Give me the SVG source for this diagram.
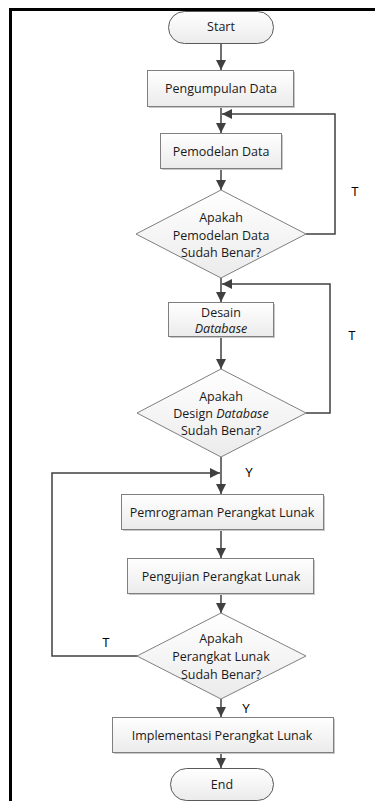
<svg xmlns="http://www.w3.org/2000/svg" width="375" height="801" viewBox="0 0 375 801">
<defs>
<linearGradient id="g" x1="0" y1="0" x2="0" y2="1"><stop offset="0" stop-color="#ffffff"/><stop offset="1" stop-color="#ebebeb"/></linearGradient>
<marker id="ah" markerUnits="userSpaceOnUse" markerWidth="10" markerHeight="10" viewBox="0 0 10 10" refX="10" refY="5" orient="auto"><path d="M0,0 L10,5 L0,10 z" fill="#404040"/></marker>
</defs>
<style>
.box{fill:url(#g);stroke:#7f7f7f;stroke-width:1}
.sh{fill:#c8c8c8}
.term{fill:url(#g);stroke:#595959;stroke-width:1}
.t{font-family:"Open Sans","Noto Sans",sans-serif;font-size:12.5px;fill:#1a1a1a;text-anchor:middle}
.lbl{font-family:"Liberation Sans",Arial,sans-serif;font-size:12px;fill:#000;text-anchor:middle}
.c{fill:none;stroke:#404040;stroke-width:1.5;marker-end:url(#ah)}
</style>
<rect width="375" height="801" fill="#fff"/>
<path d="M10.5,801 V9.5 H375" fill="none" stroke="#000" stroke-width="3"/>
<g id="connectors">
<path class="c" d="M221,43 V70"/>
<path class="c" d="M221,106 V133"/>
<path class="c" d="M221,168 V190"/>
<path class="c" d="M306,234 H335 V114 H222"/>
<path class="c" d="M221,278 V302"/>
<path class="c" d="M221,336 V369"/>
<path class="c" d="M306,413 H330 V284 H222"/>
<path class="c" d="M221,457 V494"/>
<path class="c" d="M137,656 H52 V473 H220"/>
<path class="c" d="M221,529 V558"/>
<path class="c" d="M221,593 V613"/>
<path class="c" d="M221,699 V717"/>
<path class="c" d="M221,752 V768"/>
</g>
<g id="start"><rect class="term" x="168.5" y="11.5" width="105" height="32" rx="16"/><text class="t" x="221" y="31">Start</text></g>
<g id="pengumpulan"><rect class="sh" x="149" y="72" width="146" height="36"/><rect class="box" x="147.5" y="70.5" width="146" height="36"/><text class="t" x="221" y="93">Pengumpulan Data</text></g>
<g id="pemodelan"><rect class="sh" x="162" y="135" width="121" height="35"/><rect class="box" x="160.5" y="133.5" width="121" height="35"/><text class="t" x="221" y="155.5">Pemodelan Data</text></g>
<g id="cek1"><polygon class="box" points="221,190 306,234 221,278 136,234"/><text class="t" x="221" y="221.5">Apakah</text><text class="t" x="221" y="239.5">Pemodelan Data</text><text class="t" x="221" y="256.5">Sudah Benar?</text></g>
<g id="desain"><rect class="sh" x="170" y="304" width="105" height="34"/><rect class="box" x="168.5" y="302.5" width="105" height="34"/><text class="t" x="221" y="316.5">Desain</text><text class="t" x="221" y="332.5" font-style="italic">Database</text></g>
<g id="cek2"><polygon class="box" points="221,369 306,413 221,457 137,413"/><text class="t" x="221" y="400.5">Apakah</text><text class="t" x="221" y="417.5">Design <tspan font-style="italic">Database</tspan></text><text class="t" x="221" y="434.5">Sudah Benar?</text></g>
<g id="pemrograman"><rect class="sh" x="123" y="496" width="202" height="35"/><rect class="box" x="121.5" y="494.5" width="202" height="35"/><text class="t" x="222" y="516.5">Pemrograman Perangkat Lunak</text></g>
<g id="pengujian"><rect class="sh" x="129" y="560" width="186" height="35"/><rect class="box" x="127.5" y="558.5" width="186" height="35"/><text class="t" x="221" y="580.5">Pengujian Perangkat Lunak</text></g>
<g id="cek3"><polygon class="box" points="221,613 306,656 221,699 137,656"/><text class="t" x="221" y="642.5">Apakah</text><text class="t" x="221" y="661">Perangkat Lunak</text><text class="t" x="221" y="678.5">Sudah Benar?</text></g>
<g id="implementasi"><rect class="sh" x="114" y="719" width="221" height="35"/><rect class="box" x="112.5" y="717.5" width="221" height="35"/><text class="t" x="222" y="739.5">Implementasi Perangkat Lunak</text></g>
<g id="end"><rect class="term" x="170.5" y="768.5" width="103" height="32" rx="16"/><text class="t" x="222" y="788.5">End</text></g>
<g id="labels">
<text class="lbl" x="355" y="196">T</text>
<text class="lbl" x="352" y="340">T</text>
<text class="lbl" x="106" y="647">T</text>
<text class="lbl" x="249" y="477">Y</text>
<text class="lbl" x="246" y="713">Y</text>
</g>
</svg>
